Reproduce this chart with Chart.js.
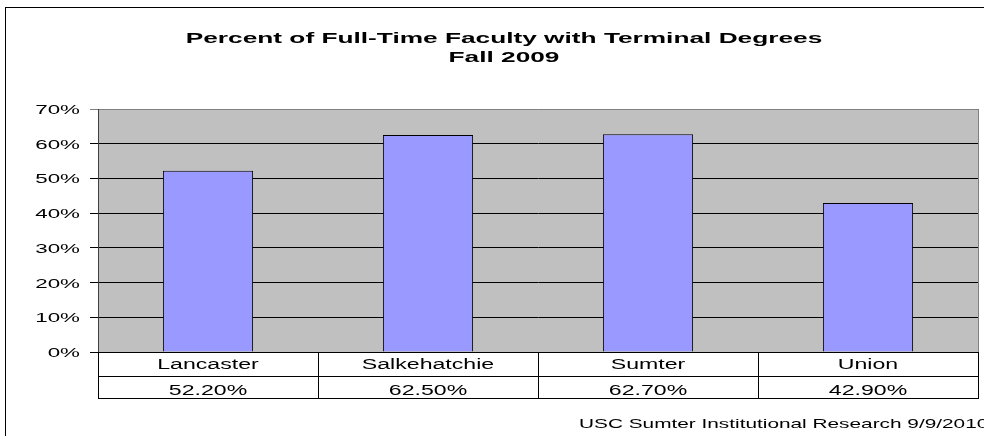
<!DOCTYPE html>
<html>
<head>
<meta charset="utf-8">
<script src="https://cdn.jsdelivr.net/npm/chart.js@4.4.1/dist/chart.umd.min.js"></script>
<style>
    html, body { margin: 0; padding: 0; background: #fff; }
    #wrap { width: 984px; height: 436px; position: relative; }
</style>
</head>
<body>
<div id="wrap"><canvas id="facultyChart" width="984" height="436"></canvas></div>
<script>
const campuses = ['Lancaster', 'Salkehatchie', 'Sumter', 'Union'];
const terminalPct = [52.2, 62.5, 62.7, 42.9];
const yTicks = [0, 10, 20, 30, 40, 50, 60, 70];
const titleLines = ['Percent of Full-Time Faculty with Terminal Degrees', 'Fall 2009'];
const footerText = 'USC Sumter Institutional Research 9/9/2010';

const FONT = "'Liberation Sans', Arial, sans-serif";

// the original Excel picture is stretched sideways, so text is drawn scaled in x
function wideText(ctx, text, x, y, align, font, sx) {
    ctx.save();
    ctx.font = font;
    ctx.fillStyle = '#000';
    ctx.textBaseline = 'alphabetic';
    ctx.translate(x, y);
    ctx.scale(sx, 1);
    ctx.textAlign = align;
    ctx.fillText(text, 0, 0);
    ctx.restore();
}

const excelLook = {
    id: 'excelLook',
    beforeDraw(chart) {
        const { ctx, chartArea: a } = chart;
        ctx.save();
        ctx.fillStyle = '#fff';
        ctx.fillRect(0, 0, chart.width, chart.height);
        // outer chart frame (runs off the right and bottom)
        ctx.strokeStyle = '#000';
        ctx.lineWidth = 1;
        ctx.strokeRect(5.5, 7.5, 1100, 600);
        // plot area
        ctx.fillStyle = '#c0c0c0';
        ctx.fillRect(a.left, a.top, a.right - a.left, a.bottom - a.top);
        ctx.restore();
    },
    afterDraw(chart) {
        const { ctx, chartArea: a, scales } = chart;
        const x = scales.x, y = scales.y;
        ctx.save();
        ctx.lineWidth = 1;

        // plot border right side
        ctx.strokeStyle = '#808080';
        ctx.beginPath();
        ctx.moveTo(Math.round(a.right) + 0.5, a.top);
        ctx.lineTo(Math.round(a.right) + 0.5, a.bottom);
        ctx.stroke();

        // y labels
        yTicks.forEach(v => {
            wideText(ctx, v + '%', 80, Math.round(y.getPixelForValue(v)) + 5, 'right', '13px ' + FONT, 1.72);
        });

        // data table under the axis
        const row1 = Math.round(a.bottom) + 24;
        const row2 = row1 + 22;
        ctx.strokeStyle = '#000';
        ctx.beginPath();
        ctx.moveTo(a.left - 8, Math.round(a.bottom) + 0.5);
        ctx.lineTo(a.right, Math.round(a.bottom) + 0.5);
        ctx.moveTo(a.left, row1 + 0.5);
        ctx.lineTo(a.right, row1 + 0.5);
        ctx.moveTo(a.left, row2 + 0.5);
        ctx.lineTo(a.right, row2 + 0.5);
        const step = (a.right - a.left) / campuses.length;
        for (let i = 0; i <= campuses.length; i++) {
            const bx = Math.round(a.left + i * step) + 0.5;
            ctx.moveTo(bx, a.bottom);
            ctx.lineTo(bx, row2 + 1);
        }
        ctx.stroke();

        campuses.forEach((name, i) => {
            const cx = x.getPixelForValue(i);
            wideText(ctx, name, cx, row1 - 7, 'center', '14px ' + FONT, 1.65);
            wideText(ctx, terminalPct[i].toFixed(2) + '%', cx, row2 - 3, 'center', '14px ' + FONT, 1.65);
        });

        // title
        wideText(ctx, titleLines[0], 504, 43, 'center', 'bold 15px ' + FONT, 1.75);
        wideText(ctx, titleLines[1], 504, 62, 'center', 'bold 15px ' + FONT, 1.75);

        // footer note
        wideText(ctx, footerText, 579, 428, 'left', '13px ' + FONT, 1.6);
        ctx.restore();
    }
};

new Chart(document.getElementById('facultyChart'), {
    type: 'bar',
    data: {
        labels: campuses,
        datasets: [{
            label: 'Terminal degrees',
            data: terminalPct,
            backgroundColor: '#9999ff',
            borderColor: '#000',
            borderWidth: 1,
            barPercentage: 0.41,
            categoryPercentage: 1
        }]
    },
    options: {
        responsive: false,
        animation: false,
        layout: { padding: { left: 90, top: 109, right: 6, bottom: 84 } },
        plugins: {
            legend: { display: false },
            title: { display: false },
            tooltip: { enabled: false }
        },
        scales: {
            x: { display: false },
            y: {
                min: 0,
                max: 70,
                afterFit(scale) { scale.width = 8; },
                afterBuildTicks(scale) { scale.ticks = yTicks.map(v => ({ value: v })); },
                ticks: { display: false },
                border: { color: '#404040', width: 1 },
                grid: {
                    color: ctx => ctx.tick && ctx.tick.value === 70 ? '#808080' : '#000',
                    lineWidth: 1,
                    tickLength: 8,
                    drawTicks: true
                }
            }
        }
    },
    plugins: [excelLook]
});
</script>
</body>
</html>
